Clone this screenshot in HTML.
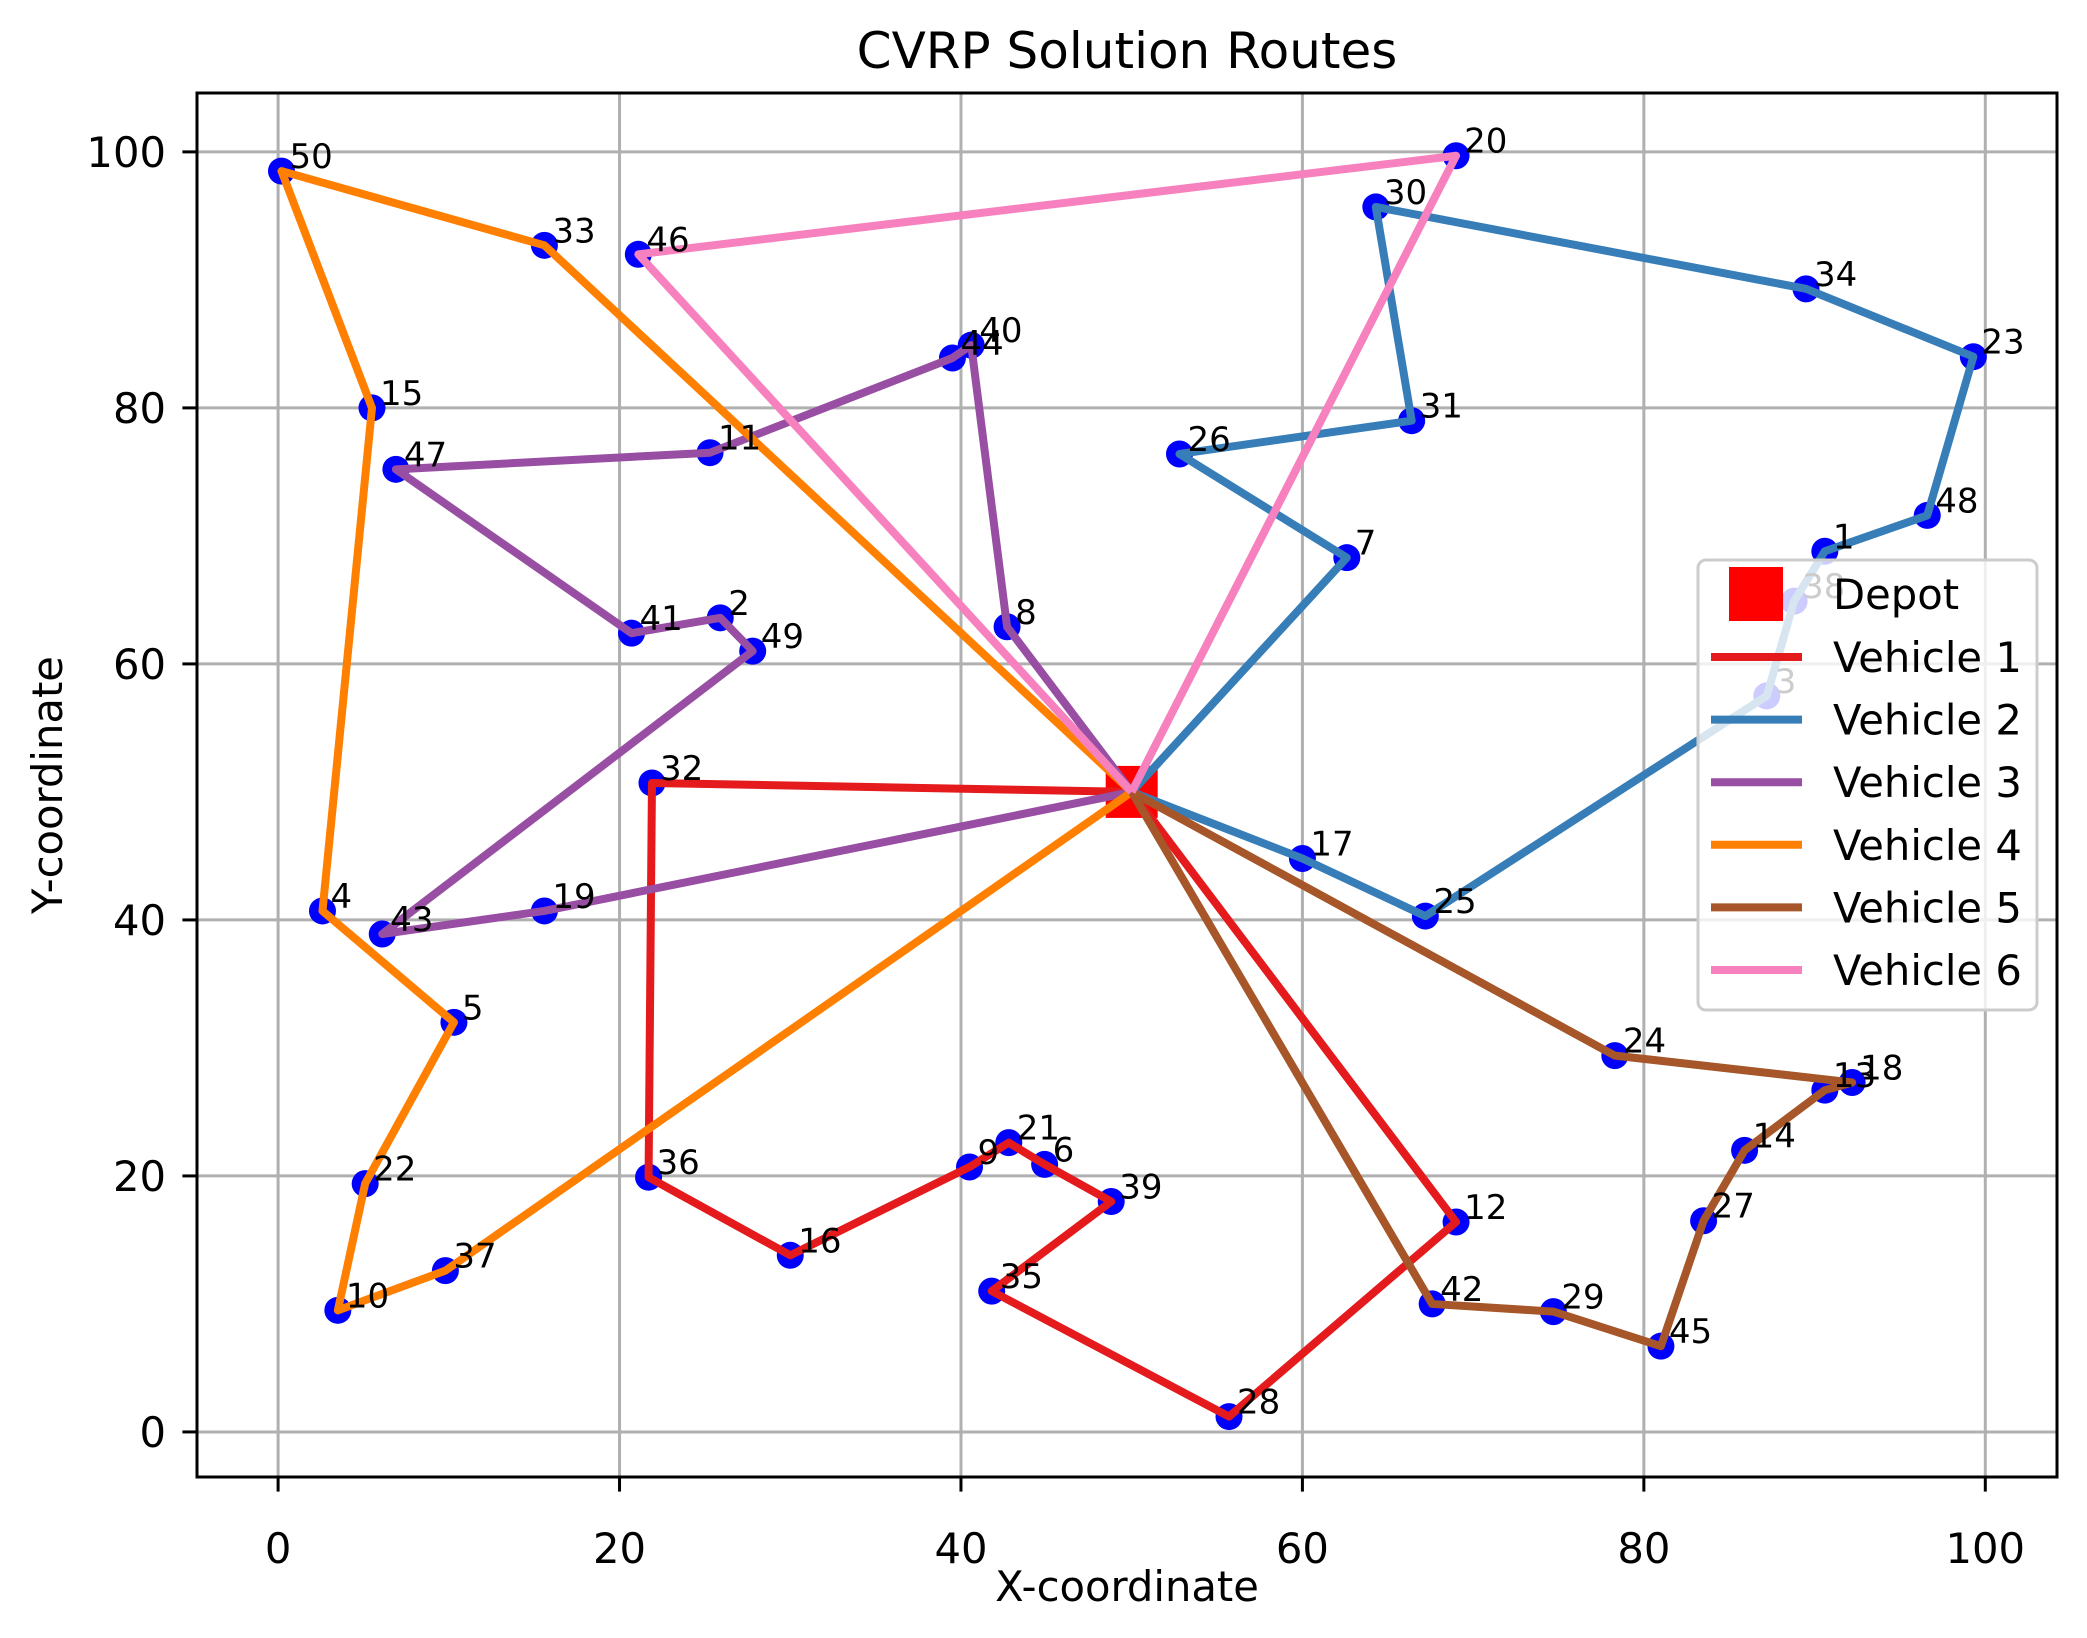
<!DOCTYPE html>
<html><head><meta charset="utf-8"><style>
html,body{margin:0;padding:0;background:#fff;}
svg{display:block;font-family:"DejaVu Sans","Liberation Sans",sans-serif;}
</style></head><body>
<svg id="chart" width="2087" height="1638" viewBox="0 0 2087 1638" xmlns="http://www.w3.org/2000/svg">
<rect width="2087" height="1638" fill="#fff"/>
<g id="grid"></g>
<g id="points"></g>
<g id="depotg"></g>
<g id="routes"></g>
<g id="labels"></g>
<g id="axes"></g>
<text x="1127" y="68" font-size="50" text-anchor="middle">CVRP Solution Routes</text>
<g id="legend"></g>
</svg>
<script>
const customerIds = [1,2,3,4,5,6,7,8,9,10,11,12,13,14,15,16,17,18,19,20,21,22,23,24,25,26,27,28,29,30,31,32,33,34,35,36,37,38,39,40,41,42,43,44,45,46,47,48,49,50];
const customerX = [90.6,25.9,87.2,2.6,10.3,44.9,62.6,42.7,40.5,3.5,25.3,69.0,90.6,85.9,5.5,30.0,60.0,92.2,15.6,69.0,42.8,5.1,99.3,78.3,67.2,52.8,83.5,55.7,74.7,64.3,66.4,21.9,15.6,89.5,41.8,21.7,9.8,88.8,48.8,40.6,20.7,67.6,6.1,39.5,81.0,21.1,6.9,96.6,27.8,0.2];
const customerY = [68.8,63.6,57.5,40.7,32.0,20.9,68.3,62.9,20.7,9.5,76.5,16.4,26.7,22.0,80.0,13.8,44.8,27.3,40.7,99.7,22.6,19.4,84.0,29.4,40.3,76.4,16.5,1.2,9.4,95.7,79.0,50.7,92.7,89.3,11.0,19.9,12.6,64.9,18.0,84.9,62.4,10.0,38.9,83.9,6.7,92.0,75.2,71.6,61.0,98.5];
const depotX = 50, depotY = 50;
const route1 = [32,36,16,9,21,6,39,35,28,12];
const route2 = [7,26,31,30,34,23,48,1,38,3,25,17];
const route3 = [8,40,44,11,47,41,2,49,43,19];
const route4 = [37,10,22,5,4,15,50,33];
const route5 = [24,18,13,14,27,45,29,42];
const route6 = [46,20];
const routeNames = ["Vehicle 1","Vehicle 2","Vehicle 3","Vehicle 4","Vehicle 5","Vehicle 6"];
const xTicks = [0,20,40,60,80,100];
const yTicks = [0,20,40,60,80,100];

const NS="http://www.w3.org/2000/svg";
const X0=197,X1=2057,Y0=93,Y1=1477;
const xmin=-4.75,xmax=104.2,ymin=-3.52,ymax=104.6;
function sx(v){return X0+(v-xmin)/(xmax-xmin)*(X1-X0);}
function sy(v){return Y1-(v-ymin)/(ymax-ymin)*(Y1-Y0);}
function mk(tag,attrs,parent){const e=document.createElementNS(NS,tag);for(const k in attrs)e.setAttribute(k,attrs[k]);parent.appendChild(e);return e;}
const grid=document.getElementById('grid'),axes=document.getElementById('axes');
xTicks.forEach(t=>{
  const l=mk('line',{x1:sx(t),x2:sx(t),y1:Y0,y2:Y1,stroke:'#b0b0b0','stroke-width':3},grid);
  
  
  const tk=mk('line',{x1:sx(t),x2:sx(t),y1:Y1,y2:Y1+14.6,stroke:'#000','stroke-width':3},axes);
  
  
  const tx=mk('text',{x:sx(t),y:1563,'font-size':41.7,'text-anchor':'middle'},axes);
  tx.textContent=t;
  
  
});
yTicks.forEach(t=>{
  const l=mk('line',{x1:X0,x2:X1,y1:sy(t),y2:sy(t),stroke:'#b0b0b0','stroke-width':3},grid);
  
  
  const tk=mk('line',{x1:X0-14.6,x2:X0,y1:sy(t),y2:sy(t),stroke:'#000','stroke-width':3},axes);
  
  
  const tx=mk('text',{x:166,y:sy(t)+15,'font-size':41.7,'text-anchor':'end'},axes);
  tx.textContent=t;
  
  
});
const frame=mk('rect',{x:X0,y:Y0,width:X1-X0,height:Y1-Y0,fill:'none',stroke:'#000','stroke-width':3},axes);


const xl=mk('text',{x:(X0+X1)/2,y:1601,'font-size':41.7,'text-anchor':'middle'},axes);
xl.textContent='X-coordinate';


const yl=mk('text',{x:0,y:0,'font-size':41.7,'text-anchor':'middle',transform:'translate(62,'+((Y0+Y1)/2)+') rotate(-90)'},axes);
yl.textContent='Y-coordinate';



const pts=document.getElementById('points'),lbls=document.getElementById('labels');
customerIds.forEach((id,i)=>{
  const c=mk('circle',{cx:sx(customerX[i]),cy:sy(customerY[i]),r:13.5,fill:'#0000ff'},pts);
  
  
  const t=mk('text',{x:sx(customerX[i])+8,y:sy(customerY[i])-3,'font-size':34},lbls);
  t.textContent=id;
  
  
});
const dep=mk('rect',{x:sx(depotX)-26,y:sy(depotY)-26,width:52,height:52,fill:'#ff0000'},document.getElementById('depotg'));


const colors=['#e41a1c','#377eb8','#984ea3','#ff7f00','#a65628','#f781bf'];
const routes=[route1,route2,route3,route4,route5,route6];
const rg=document.getElementById('routes');
routes.forEach((r,k)=>{
  const p=[[depotX,depotY]].concat(r.map(id=>[customerX[id-1],customerY[id-1]])).concat([[depotX,depotY]]);
  const pl=mk('polyline',{points:p.map(q=>sx(q[0])+','+sy(q[1])).join(' '),fill:'none',stroke:colors[k],'stroke-width':8,'stroke-linejoin':'round'},rg);
  
  
});
const lg=document.getElementById('legend');
const box=mk('rect',{x:1698,y:560,width:339,height:450,rx:8,fill:'rgba(255,255,255,0.8)',stroke:'#cccccc','stroke-width':3},lg);


const ds=mk('rect',{x:1729,y:567,width:54,height:54,fill:'#ff0000'},lg);


const dt=mk('text',{x:1833,y:609,'font-size':41.7},lg);
dt.textContent='Depot';


routeNames.forEach((n,k)=>{
  const y=657+k*62.6;
  const l=mk('line',{x1:1711,x2:1802,y1:y,y2:y,stroke:colors[k],'stroke-width':8},lg);
  
  
  const t=mk('text',{x:1833,y:y+15,'font-size':41.7},lg);
  t.textContent=n;
  
  
});
</script>
</body></html>
